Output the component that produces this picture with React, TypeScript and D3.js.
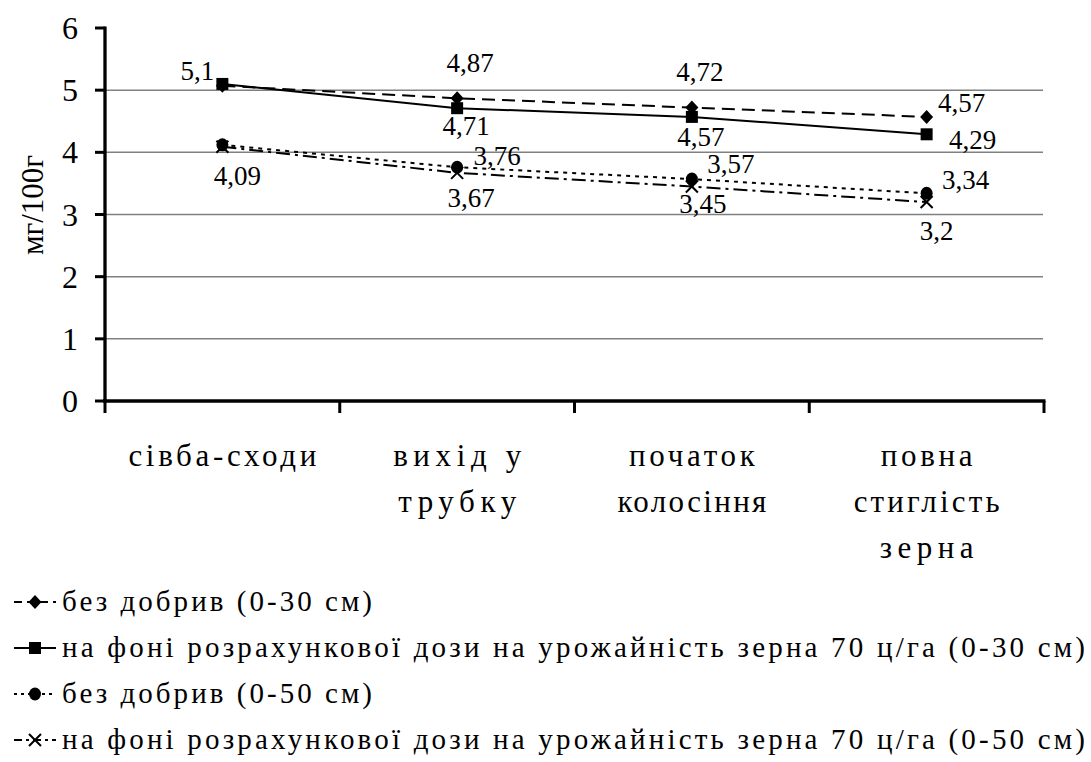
import * as d3 from "d3"

const stages = [["сівба-сходи"], ["вихід у", "трубку"], ["початок", "колосіння"], ["повна", "стиглість", "зерна"]]
const seriesNames = [
  "без добрив (0-30 см)",
  "на фоні розрахункової дози на урожайність зерна 70 ц/га (0-30 см)",
  "без добрив (0-50 см)",
  "на фоні розрахункової дози на урожайність зерна 70 ц/га (0-50 см)",
]
const noFert30 = [5.07, 4.87, 4.72, 4.57]
const dose30 = [5.1, 4.71, 4.57, 4.29]
const noFert50 = [4.12, 3.76, 3.57, 3.34]
const dose50 = [4.09, 3.67, 3.45, 3.2]
const yTicks = [0, 1, 2, 3, 4, 5, 6]

// label offsets from the point (dx, dy to baseline); null = no label shown
const labelPos: ([number, number] | null)[][] = [
  [null, [13, -26], [8, -27], [35, -5]],
  [[-25, -4], [9, 27], [9, 29], [46, 15]],
  [null, [40, -2], [39, -6], [39, -4]],
  [[15, 38], [14, 34], [11, 26], [10, 38]],
]
// visible widths of the category label lines
const stageWidths = [[188], [128, 118], [126, 149], [92, 146, 94]]

const W = 1091
const H = 762
const FONT = "'Liberation Serif', 'Times New Roman', Times, serif"

const x = d3.scaleBand<number>().domain([0, 1, 2, 3]).range([105, 1044])
const y = d3.scaleLinear().domain([0, 6]).range([401, 28])
const cx = (i: number) => (x(i) as number) + x.bandwidth() / 2

const allSeries = [noFert30, dose30, noFert50, dose50]
const dashes = ["13,7", "", "4,5", "14,5,3,5"]
const legendDashes = ["8,5", "", "3,4", "8,4,3,4"]

function Marker({ kind, px, py }: { kind: number; px: number; py: number }) {
  if (kind === 0)
    return <path d={`M${px},${py - 7}L${px + 6.5},${py}L${px},${py + 7}L${px - 6.5},${py}Z`} fill="#000" />
  if (kind === 1) return <rect x={px - 6} y={py - 6} width={12} height={12} fill="#000" />
  if (kind === 2) return <ellipse cx={px} cy={py} rx={6} ry={6.5} fill="#000" />
  return (
    <path
      d={`M${px - 6},${py - 6}L${px + 6},${py + 6}M${px + 6},${py - 6}L${px - 6},${py + 6}`}
      stroke="#000"
      strokeWidth={2}
    />
  )
}

export default function App() {
  const line = d3
    .line<number>()
    .x((_, i) => cx(i))
    .y((d) => y(d))

  return (
    <svg
      width={W}
      height={H}
      fontFamily={FONT}
      style={{ position: "absolute", left: 0, top: 0, background: "#fff", fontFamily: FONT }}
    >
      <rect width={W} height={H} fill="#fff" />
      {/* gridlines */}
      {yTicks.slice(1, 6).map((t) => (
        <line key={t} x1={105} x2={1043} y1={y(t)} y2={y(t)} stroke="#808080" strokeWidth={1.5} />
      ))}
      {/* y axis */}
      <line x1={105} x2={105} y1={y(6) - 1.5} y2={y(0)} stroke="#000" strokeWidth={3.3} />
      {yTicks.map((t) => (
        <g key={t}>
          <line x1={95} x2={105} y1={y(t)} y2={y(t)} stroke="#000" strokeWidth={3} />
          <text x={78} y={y(t) + 11} fontSize={32} textAnchor="end">
            {t}
          </text>
        </g>
      ))}
      {/* x axis */}
      <line x1={103} x2={1045.5} y1={y(0)} y2={y(0)} stroke="#000" strokeWidth={3.5} />
      {[...x.domain(), 4].map((i) => {
        const xx = i < 4 ? (x(i) as number) : 1044
        return <line key={i} x1={xx} x2={xx} y1={y(0)} y2={y(0) + 12} stroke="#000" strokeWidth={3} />
      })}
      {stages.map((lines, i) =>
        lines.map((s, j) => (
          <text
            key={i + "-" + j}
            x={cx(i)}
            y={466 + j * 46}
            fontSize={31}
            textAnchor="middle"
            textLength={stageWidths[i][j]}
            lengthAdjust="spacing"
          >
            {s}
          </text>
        ))
      )}
      <text transform="translate(43,205) rotate(-90)" fontSize={31} textAnchor="middle">
        мг/100г
      </text>
      {/* series */}
      {allSeries.map((s, k) => (
        <g key={k}>
          <path d={line(s) || ""} fill="none" stroke="#000" strokeWidth={2} strokeDasharray={dashes[k]} />
          {s.map((v, i) => (
            <Marker key={i} kind={k} px={cx(i)} py={y(v)} />
          ))}
          {s.map((v, i) => {
            const p = labelPos[k][i]
            if (!p) return null
            return (
              <text key={"l" + i} x={cx(i) + p[0]} y={y(v) + p[1]} fontSize={27} textAnchor="middle">
                {String(v).replace(".", ",")}
              </text>
            )
          })}
        </g>
      ))}
      {/* legend */}
      {seriesNames.map((n, k) => {
        const ly = 602 + k * 46
        return (
          <g key={k}>
            <line x1={14} x2={56} y1={ly} y2={ly} stroke="#000" strokeWidth={2} strokeDasharray={legendDashes[k]} />
            <Marker kind={k} px={35} py={ly} />
            <text x={62} y={ly + 9} fontSize={29} textLength={k % 2 === 0 ? 310 : 1023} lengthAdjust="spacing">
              {n}
            </text>
          </g>
        )
      })}
    </svg>
  )
}
